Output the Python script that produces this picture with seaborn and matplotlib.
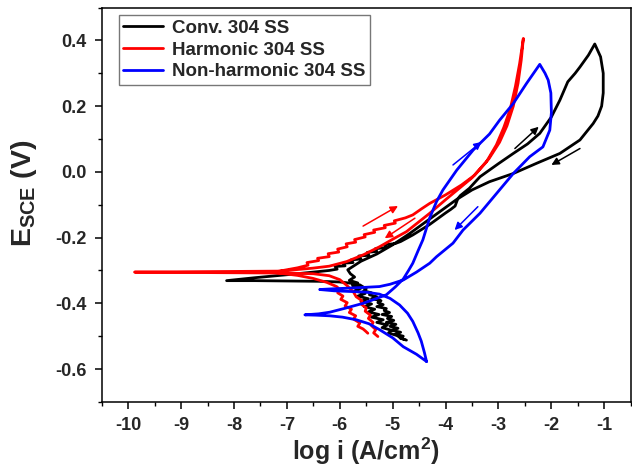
import numpy as np
import pandas as pd
import matplotlib
matplotlib.use("Agg")
import matplotlib.pyplot as plt
import seaborn as sns

# ---------------- data ----------------
series_names = ["Conv. 304 SS", "Harmonic 304 SS", "Non-harmonic 304 SS"]
series_colors = ["#000000", "#ff0000", "#0000ff"]

conv_x = [-4.74, -4.86, -4.80, -4.95, -4.85, -5.02, -4.90, -5.05, -4.94, -5.12, -4.98, -5.10, -5.02,
          -5.20, -5.06, -5.16, -5.12, -5.30, -5.18, -5.28, -5.22, -5.40, -5.30, -5.44, -5.40, -5.55,
          -5.50, -5.56,
          -5.62, -5.78, -6.00, -6.40, -7.00, -7.60, -8.14,
          -7.60, -7.00, -6.50, -6.20, -6.05, -6.09, -5.90, -5.94, -5.75, -5.79, -5.60, -5.64, -5.45, -5.48,
          -5.30, -5.33, -5.12, -5.15, -4.95, -4.85, -4.62, -4.30, -4.00, -3.90, -3.82, -3.77, -3.72, -3.55,
          -3.35, -3.00, -2.72, -2.45, -2.22, -2.00, -1.84, -1.69, -1.55, -1.46, -1.30, -1.18,
          -1.07, -1.02, -1.02, -1.05, -1.12, -1.21, -1.46, -1.84, -2.28, -2.72, -3.17, -3.50, -3.80,
          -4.10, -4.40, -4.70, -5.00, -5.30, -5.60, -5.85,
          -5.80, -5.72, -5.82, -5.66, -5.76, -5.60, -5.72, -5.52, -5.66, -5.46, -5.60, -5.40, -5.54,
          -5.34, -5.46, -5.26, -5.40, -5.18, -5.30, -5.10, -5.20, -5.02, -5.08, -4.92, -4.86, -4.78]
conv_y = [-0.512, -0.506, -0.500, -0.494, -0.488, -0.482, -0.476, -0.470, -0.464, -0.458, -0.452, -0.446,
          -0.440, -0.434, -0.428, -0.422, -0.416, -0.410, -0.404, -0.398, -0.392, -0.386, -0.380, -0.374,
          -0.368, -0.362, -0.356, -0.350,
          -0.344, -0.339, -0.335, -0.333, -0.332, -0.331, -0.331,
          -0.322, -0.313, -0.305, -0.300, -0.296, -0.288, -0.286, -0.278, -0.276, -0.268, -0.265, -0.256,
          -0.254, -0.245, -0.242, -0.234, -0.230, -0.222, -0.218, -0.212, -0.192, -0.160, -0.125, -0.114,
          -0.104, -0.082, -0.072, -0.050, -0.015, 0.025, 0.056, 0.085, 0.117, 0.167, 0.218, 0.274, 0.300,
          0.319, 0.355, 0.389,
          0.350, 0.300, 0.240, 0.200, 0.170, 0.147, 0.097, 0.056, 0.026, -0.005, -0.030, -0.055, -0.085,
          -0.120, -0.155, -0.190, -0.222, -0.250, -0.272, -0.298,
          -0.310, -0.320, -0.330, -0.338, -0.346, -0.354, -0.362, -0.370, -0.378, -0.386, -0.394, -0.402,
          -0.410, -0.418, -0.426, -0.434, -0.442, -0.450, -0.458, -0.466, -0.474, -0.482, -0.490, -0.498,
          -0.504, -0.510]

harm_x = [-5.28, -5.36, -5.32, -5.40, -5.37, -5.46, -5.42, -5.52, -5.50, -5.60, -5.58, -5.69, -5.74,
          -5.87, -6.00, -6.20, -6.50, -7.00, -8.00, -9.00, -9.88,
          -9.00, -8.00, -7.14, -6.80, -6.60, -6.62, -6.40, -6.42, -6.20, -6.22, -6.02, -6.04, -5.86, -5.88,
          -5.70, -5.72, -5.52, -5.54, -5.34, -5.36, -5.14, -5.16, -4.95, -4.97, -4.76, -4.62, -4.45, -4.30,
          -4.00, -3.70, -3.45, -3.23, -3.04, -2.90, -2.78, -2.68, -2.60, -2.53,
          -2.57, -2.63, -2.72, -2.84, -2.98, -3.18, -3.50, -3.80, -3.98, -4.30, -4.74, -5.00, -5.25,
          -5.55, -5.87, -6.20, -6.51, -7.00, -7.30, -6.80, -6.51, -6.25, -6.06,
          -6.00, -6.04, -5.94, -5.98, -5.86, -5.90, -5.78, -5.82, -5.70, -5.74, -5.62, -5.66, -5.56, -5.51,
          -5.47]
harm_y = [-0.501, -0.490, -0.480, -0.468, -0.458, -0.446, -0.436, -0.424, -0.414, -0.402, -0.392, -0.380,
          -0.366, -0.345, -0.328, -0.316, -0.310, -0.308, -0.307, -0.306, -0.305,
          -0.304, -0.303, -0.302, -0.292, -0.284, -0.276, -0.270, -0.263, -0.258, -0.249, -0.244, -0.235,
          -0.228, -0.219, -0.214, -0.206, -0.198, -0.191, -0.184, -0.177, -0.170, -0.163, -0.156, -0.149,
          -0.140, -0.131, -0.112, -0.096, -0.070, -0.040, -0.010, 0.030, 0.082, 0.135, 0.190, 0.260, 0.330,
          0.406,
          0.340, 0.270, 0.200, 0.140, 0.090, 0.040, -0.018, -0.058, -0.082, -0.126, -0.182, -0.205, -0.228,
          -0.252, -0.273, -0.287, -0.293, -0.300, -0.305, -0.315, -0.324, -0.336, -0.349,
          -0.358, -0.368, -0.378, -0.388, -0.398, -0.408, -0.418, -0.428, -0.438, -0.448, -0.460, -0.470,
          -0.478, -0.485, -0.491]

nonh_x = [-4.36, -4.55, -4.80, -5.00, -5.25, -5.45, -5.69, -5.95, -6.19, -6.45, -6.66,
          -6.40, -6.19, -5.90, -5.56, -5.30, -5.12, -4.95, -4.80, -4.70, -4.62, -4.52, -4.43, -4.30,
          -4.17, -4.05, -3.79, -3.48, -3.17, -2.98, -2.72, -2.47, -2.22,
          -2.12, -2.06, -2.01, -2.00, -2.03, -2.16, -2.41, -2.72, -3.10, -3.35, -3.67, -3.86, -4.17,
          -4.30, -4.55, -4.80, -5.05, -5.25, -5.60, -5.87, -6.15, -6.38,
          -6.10, -5.80, -5.50, -5.25, -5.05, -4.87, -4.72, -4.62, -4.52, -4.46, -4.40, -4.36]
nonh_y = [-0.577, -0.555, -0.532, -0.505, -0.480, -0.462, -0.450, -0.442, -0.438, -0.436, -0.435,
          -0.432, -0.427, -0.415, -0.400, -0.385, -0.374, -0.350, -0.326, -0.300, -0.278, -0.240, -0.207,
          -0.140, -0.090, -0.055, 0.005, 0.066, 0.115, 0.157, 0.208, 0.269, 0.327,
          0.300, 0.279, 0.240, 0.180, 0.127, 0.076, 0.046, -0.005, -0.078, -0.126, -0.177, -0.217, -0.258,
          -0.278, -0.305, -0.329, -0.342, -0.349, -0.352, -0.354, -0.356, -0.358,
          -0.362, -0.364, -0.366, -0.372, -0.385, -0.405, -0.430, -0.455, -0.490, -0.515, -0.550, -0.577]

# direction arrows: (x_start, y_start, x_end, y_end)
arrow_series = [0, 0, 1, 1, 2, 2]
arrow_x0 = [-2.69, -1.46, -5.56, -4.58, -3.86, -3.39]
arrow_y0 = [0.071, 0.071, -0.165, -0.141, 0.021, -0.106]
arrow_x1 = [-2.24, -2.00, -4.90, -5.15, -3.32, -3.83]
arrow_y1 = [0.137, 0.021, -0.104, -0.202, 0.091, -0.177]

x_ticks = [-10, -9, -8, -7, -6, -5, -4, -3, -2, -1]
y_ticks = [-0.6, -0.4, -0.2, 0.0, 0.2, 0.4]

# ---------------- build table ----------------
frames = []
for name, xs, ys in zip(series_names, [conv_x, harm_x, nonh_x], [conv_y, harm_y, nonh_y]):
    n = min(len(xs), len(ys))
    frames.append(pd.DataFrame({"logi": xs[:n], "E": ys[:n], "series": name}))
df = pd.concat(frames, ignore_index=True)

# ---------------- style ----------------
sns.set_theme(style="ticks")
plt.rcParams["font.family"] = ["Liberation Sans", "DejaVu Sans"]
plt.rcParams["font.weight"] = "bold"
plt.rcParams["mathtext.fontset"] = "custom"
plt.rcParams["mathtext.rm"] = "Liberation Sans:bold"
plt.rcParams["mathtext.bf"] = "Liberation Sans:bold"
plt.rcParams["mathtext.it"] = "Liberation Sans:bold"

fig = plt.figure(figsize=(6.32, 4.69), dpi=100)
ax = fig.add_axes([0.161, 0.143, 0.837, 0.841])

for name, col in zip(series_names, series_colors):
    sub = df[df["series"] == name]
    sns.lineplot(data=sub, x="logi", y="E", sort=False, estimator=None, color=col,
                 linewidth=2.0, ax=ax, label=name)

for s, x0, y0, x1, y1 in zip(arrow_series, arrow_x0, arrow_y0, arrow_x1, arrow_y1):
    ax.annotate("", xy=(x1, y1), xytext=(x0, y0),
                arrowprops=dict(arrowstyle="-|>", color=series_colors[s], lw=1.1,
                                mutation_scale=11, shrinkA=0, shrinkB=0))

ax.set_xlim(-10.5, -0.5)
ax.set_ylim(-0.7, 0.5)
ax.set_xticks(x_ticks)
ax.set_xticklabels([str(t) for t in x_ticks])
ax.set_yticks(y_ticks)
ax.set_yticklabels([f"{t:.1f}" for t in y_ticks])
ax.set_xticks(np.arange(-10.5, -0.4, 0.5), minor=True)
ax.set_yticks(np.arange(-0.7, 0.51, 0.1), minor=True)
ax.tick_params(which="major", direction="out", length=5, width=1.1, labelsize=13, pad=6, color="black")
ax.tick_params(which="minor", direction="out", length=3, width=1.0, color="black")
for lab in ax.get_xticklabels() + ax.get_yticklabels():
    lab.set_fontweight("bold")
for sp in ax.spines.values():
    sp.set_linewidth(1.1)
    sp.set_color("black")

ax.set_xlabel("log i (A/cm$^{2}$)", fontsize=18, fontweight="bold", labelpad=1)
ax.set_ylabel("$E_{SCE}$ (V)", fontsize=20.5, fontweight="bold")
ax.yaxis.set_label_coords(-0.118, 0.53)

leg = ax.legend(loc="upper left", bbox_to_anchor=(0.032, 0.981), borderaxespad=0,
                frameon=True, fancybox=False,
                edgecolor="#777777", framealpha=1, handlelength=2.1, handletextpad=0.5,
                borderpad=0.25, labelspacing=0.25, prop={"weight": "bold", "size": 13.5})
leg.get_frame().set_linewidth(1.0)
for ln in leg.get_lines():
    ln.set_linewidth(2.0)

fig.savefig("out.png", dpi=100)
